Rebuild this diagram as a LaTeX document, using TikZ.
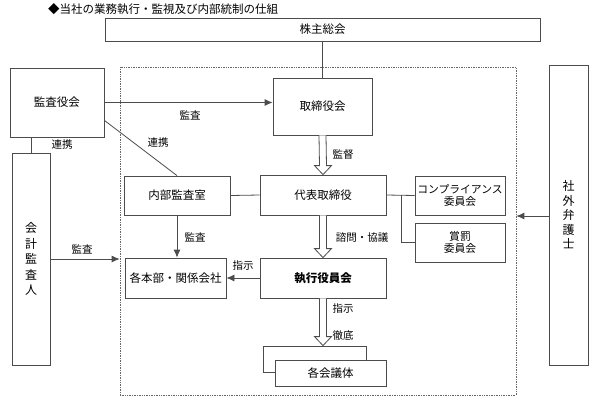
\documentclass[tikz,border=0pt]{standalone}
\usepackage{fontspec}
\setmainfont{Noto Sans CJK JP}
\usepackage{tikz}
\usetikzlibrary{arrows.meta,calc}

% white block arrow pointing down, from anchor #1 to anchor #2
\newcommand{\hollowarrow}[2]{%
	\draw[hollow] ($(#1)+(-3.5,0)$) -- ($(#2)+(-3.5,-9)$) -- ($(#2)+(-8.5,-9)$) -- (#2) -- ($(#2)+(8.5,-9)$) -- ($(#2)+(3.5,-9)$) -- ($(#1)+(3.5,0)$);}

\begin{document}
\begin{tikzpicture}[x=1pt,y=-1pt,
		box/.style={draw=black!70,line width=.8pt,fill=white,inner sep=0pt,align=center,font=\fontsize{11.5}{13}\selectfont},
		lbl/.style={font=\fontsize{10.5}{12}\selectfont,inner sep=1pt},
		con/.style={draw=black!70,line width=.8pt},
		arr/.style={con,-{Latex[length=8pt,width=7pt]}},
		hollow/.style={draw=black!70,line width=.8pt,fill=white}]
				
				\useasboundingbox (0,0) rectangle (598,400);
				
				\node[anchor=west,font=\fontsize{11.5}{13}\selectfont,inner sep=0pt] (title) at (48,9) {◆当社の業務執行・監視及び内部統制の仕組};
				
				\node[draw=black!60,densely dotted,line width=.7pt,minimum width=396pt,minimum height=328pt,inner sep=0pt] (frame) at (318,231) {};
				
				\node[box,minimum width=435pt,minimum height=23pt] (share) at (322.5,29.5) {株主総会};
				\node[box,minimum width=94pt,minimum height=69pt] (kansa) at (57,102.5) {監査役会};
				\node[box,minimum width=99pt,minimum height=57pt] (board) at (322.5,106.5) {取締役会};
				\node[box,minimum width=106pt,minimum height=39pt] (audit) at (177,195.5) {内部監査室};
				\node[box,minimum width=126pt,minimum height=40pt] (ceo) at (323,195) {代表取締役};
				\node[box,minimum width=90pt,minimum height=39pt,font=\fontsize{10.8}{12.5}\selectfont] (comp) at (460,195.5) {コンプライアンス\\委員会};
				\node[box,minimum width=90pt,minimum height=39pt,font=\fontsize{10.8}{12.5}\selectfont] (award) at (460,242.5) {賞罰\\委員会};
				\node[box,minimum width=101pt,minimum height=40pt] (depts) at (175.5,278) {各本部・関係会社};
				\node[box,minimum width=126pt,minimum height=40pt,font=\fontsize{11.5}{13}\selectfont\bfseries] (exec) at (323,278) {執行役員会};
				\node[box,minimum width=103pt,minimum height=26pt] (meetback) at (314.5,359) {};
				\node[box,minimum width=111pt,minimum height=26pt] (meet) at (330.5,373) {各会議体};
				\node[box,minimum width=38pt,minimum height=212pt,font=\fontsize{12}{15.5}\selectfont] (acct) at (31,259) {会\\計\\監\\査\\人};
				\node[box,minimum width=39pt,minimum height=300pt,font=\fontsize{12}{14.5}\selectfont] (lawyer) at (568.5,215) {社\\外\\弁\\護\\士};
				
				\draw[con] (share.south) -- (board.north);
				\draw[arr] (kansa.east) -- (kansa.east -| board.west);
				\node[lbl] (l1) at (190,115) {監査};
				
				\coordinate (kansalink) at ($(kansa.south east)+(0,-17)$);
				\draw[con] (kansalink) -- (audit.north);
				\node[lbl] (l2) at (158,143) {連携};
				
				\draw[con] (acct.north) -- (acct.north |- kansa.south);
				\node[lbl] (l3) at (62,145) {連携};
				
				\draw[arr] (acct.east) -- (acct.east -| frame.west);
				\node[lbl] (l4) at (82,249) {監査};
				
				\draw[arr] (audit.south) -- (audit.south |- depts.north);
				\node[lbl] (l5) at (195,237) {監査};
				
				\draw[con] (audit.east) -- (ceo.west);
				
				\hollowarrow{board.south}{ceo.north}
				\node[lbl] (l6) at (343,155) {監督};
				
				\hollowarrow{ceo.south}{exec.north}
				\node[lbl] (l7) at (362,238) {諮問・協議};
				
				\draw[arr] (exec.west) -- (depts.east);
				\node[lbl] (l8) at (243,266) {指示};
				
				\coordinate (meettop) at (exec.south |- meetback.north);
				\hollowarrow{exec.south}{meettop}
				\node[lbl] (l9) at (343,309) {指示};
				\node[lbl] (l10) at (343,336) {徹底};
				
				\draw[con] (ceo.east) -- (comp.west);
				\coordinate (branch) at (401,195);
				\draw[con] (branch) |- (award.west);
				
				\draw[arr] (lawyer.west |- 0,216) -- (frame.east |- 0,216);
			\end{tikzpicture}
\end{document}
